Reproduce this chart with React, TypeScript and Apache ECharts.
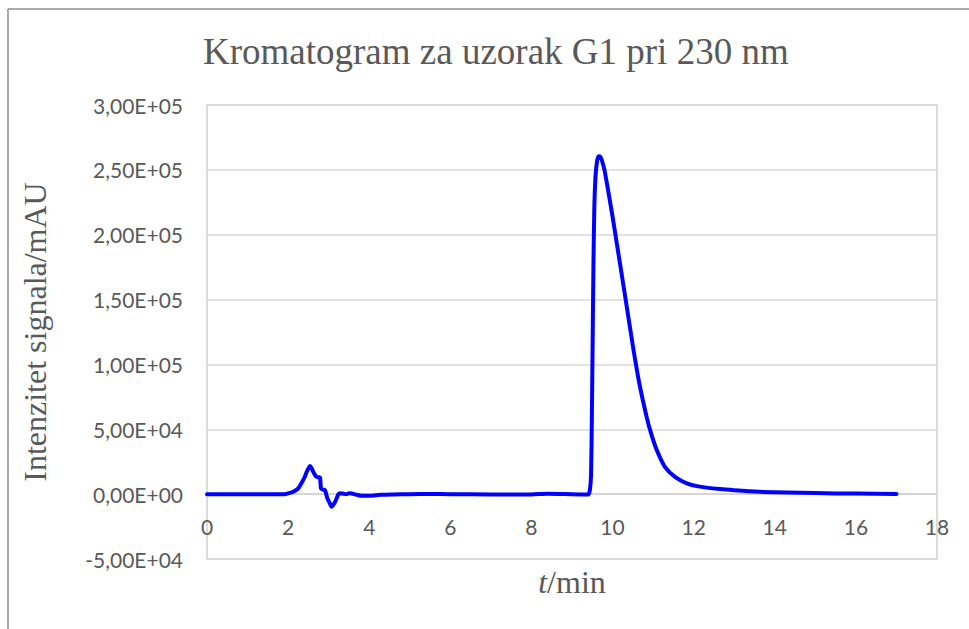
import React, { useEffect, useRef } from "react";
import * as echarts from "echarts";

const TITLE = "Kromatogram za uzorak G1 pri 230 nm";
const Y_NAME = "Intenzitet signala/mAU";
const X_NAME_ITALIC = "t";
const X_NAME_REST = "/min";

const timeMin: number[] = [
  0, 1.92, 2.0, 2.09, 2.17, 2.25, 2.31, 2.37, 2.42, 2.46, 2.5, 2.54, 2.58, 2.62, 2.66, 2.7, 2.76,
  2.79, 2.81, 2.86, 2.91, 2.94, 2.97, 3.02, 3.07, 3.12, 3.16, 3.2, 3.24, 3.28, 3.32, 3.38, 3.44,
  3.5, 3.57, 3.63, 3.69, 3.81, 4.02, 4.27, 4.6, 5.0, 5.5, 6.0, 7.0, 8.0, 8.4, 8.8, 9.2, 9.4, 9.44,
  9.47, 9.49, 9.51, 9.53, 9.55, 9.58, 9.62, 9.66, 9.7, 9.74, 9.8, 9.87, 9.93, 10.0, 10.13, 10.26,
  10.37, 10.51, 10.66, 10.84, 10.95, 11.09, 11.29, 11.54, 11.83, 12.11, 12.65, 13.0, 13.63, 14.3,
  15.0, 16.0, 17.0,
];

const signal: number[] = [
  0, 0, 600, 1300, 2600, 4400, 7500, 10800, 14000, 17200, 19800, 21600, 20000, 17200, 15000, 13300,
  13000, 12600, 4400, 3500, 3100, 0, -3300, -6500, -9800, -8000, -5900, -3000, 0, 700, 500, 200, 0,
  600, 500, 0, -500, -1300, -1300, -500, -200, 0, 200, 0, -300, -200, 300, 100, -200, -300, 3000,
  15000, 60000, 120000, 180000, 220000, 245000, 257000, 260500, 260000, 257000, 250000, 238000,
  227000, 214000, 188300, 162600, 140500, 112500, 85400, 59600, 46800, 34000, 21100, 13300, 8300,
  6000, 3900, 3000, 1800, 1200, 800, 400, 200,
];

const X_MIN = 0;
const X_MAX = 18;
const X_STEP = 2;
const Y_MIN = -50000;
const Y_MAX = 300000;
const Y_STEP = 50000;

function sci(v: number): string {
  if (v === 0) return "0,00E+00";
  const e = Math.floor(Math.log10(Math.abs(v)) + 1e-9);
  const m = v / Math.pow(10, e);
  return (
    m.toFixed(2).replace(".", ",") +
    "E" +
    (e < 0 ? "-" : "+") +
    String(Math.abs(e)).padStart(2, "0")
  );
}

const GRID_TOP = 105;
const GRID_H = 454;

export default function App() {
  const ref = useRef<HTMLDivElement>(null);
  useEffect(() => {
    if (!ref.current) return;
    const chart = echarts.init(ref.current, undefined, { renderer: "svg" });
    const data = timeMin.map((t, i) => [t, signal[i]]);
    const labelColor = "#595959";
    const zeroOffset = -(GRID_H * (0 - Y_MIN)) / (Y_MAX - Y_MIN);
    chart.setOption({
      animation: false,
      backgroundColor: "#ffffff",
      title: {
        text: TITLE,
        left: 198,
        top: 28,
        textStyle: {
          fontFamily: "'Liberation Serif', 'Times New Roman', serif",
          fontSize: 37,
          fontWeight: "normal",
          color: labelColor,
        },
      },
      grid: {
        left: 207,
        top: GRID_TOP,
        width: 730,
        height: GRID_H,
        show: true,
        borderColor: "#d0d0d0",
        borderWidth: 1.5,
        backgroundColor: "transparent",
        containLabel: false,
        outerBoundsMode: "none",
      },
      xAxis: {
        type: "value",
        min: X_MIN,
        max: X_MAX,
        interval: X_STEP,
        position: "bottom",
        offset: zeroOffset,
        name: "{i|" + X_NAME_ITALIC + "}{r|" + X_NAME_REST + "}",
        nameLocation: "middle",
        nameGap: 72,
        nameTextStyle: {
          rich: {
            i: {
              fontFamily: "'Liberation Serif', serif",
              fontStyle: "italic",
              fontSize: 32,
              color: labelColor,
            },
            r: {
              fontFamily: "'Liberation Serif', serif",
              fontSize: 32,
              color: labelColor,
            },
          },
        },
        axisLine: { show: true, onZero: false, lineStyle: { color: "#d0d0d0", width: 1.5 } },
        axisTick: { show: false },
        splitLine: { show: false },
        axisLabel: {
          margin: 22,
          color: labelColor,
          fontFamily: "Lato, 'Open Sans', sans-serif",
          fontSize: 21,
        },
      },
      yAxis: {
        type: "value",
        min: Y_MIN,
        max: Y_MAX,
        interval: Y_STEP,
        name: Y_NAME,
        nameLocation: "middle",
        nameGap: 156,
        nameTextStyle: {
          fontFamily: "'Liberation Serif', serif",
          fontSize: 32,
          color: labelColor,
        },
        axisLine: { show: false },
        axisTick: { show: false },
        splitLine: { show: true, lineStyle: { color: "#d9d9d9", width: 1.5 } },
        axisLabel: {
          margin: 24,
          color: labelColor,
          fontFamily: "Lato, 'Open Sans', sans-serif",
          fontSize: 21,
          formatter: (v: number) => sci(v),
        },
      },
      graphic: [
        {
          type: "line",
          shape: { x1: 8, y1: 9, x2: 969, y2: 9 },
          style: { stroke: "#8c8c8c", lineWidth: 1.5 },
        },
        {
          type: "line",
          shape: { x1: 8, y1: 9, x2: 8, y2: 629 },
          style: { stroke: "#8c8c8c", lineWidth: 1.5 },
        },
      ],
      series: [
        {
          type: "line",
          data,
          showSymbol: false,
          smooth: 0.2,
          lineStyle: { color: "#0000ff", width: 4, join: "round", cap: "round" },
          itemStyle: { color: "#0000ff" },
        },
      ],
    });
    return () => chart.dispose();
  }, []);
  return (
    <div
      ref={ref}
      style={{ position: "fixed", left: 0, top: 0, width: 969, height: 629, background: "#fff" }}
    />
  );
}
